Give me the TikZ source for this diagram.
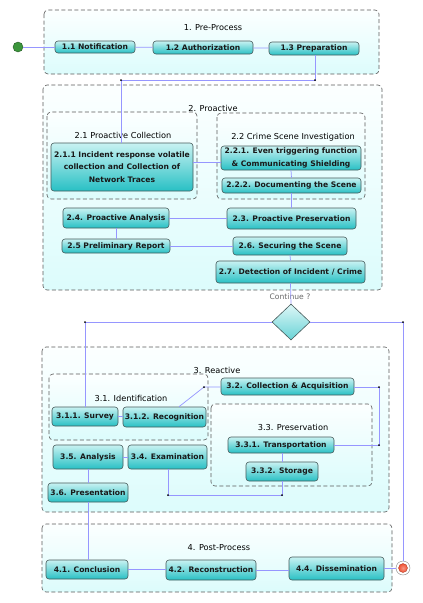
\documentclass[tikz,border=0pt]{standalone}
\usepackage{fontspec}
\setmainfont{DejaVu Sans}
\usetikzlibrary{shapes.geometric,calc}
\definecolor{boxtop}{RGB}{200,242,242}
\definecolor{boxbot}{RGB}{40,192,196}
\definecolor{boxdraw}{RGB}{70,90,90}
\definecolor{grptop}{RGB}{252,255,255}
\definecolor{grpbot}{RGB}{220,252,252}
\definecolor{grpdraw}{RGB}{90,90,90}
\definecolor{conn}{RGB}{150,150,255}
\definecolor{startg}{RGB}{60,150,60}
\definecolor{endr}{RGB}{240,80,50}
\tikzset{
  stepbox/.style={draw=boxdraw, line width=0.6pt, rounded corners=3pt, top color=boxtop, bottom color=boxbot, font=\fontsize{7.6}{8}\selectfont\bfseries, text=black!90, inner sep=1pt, align=center},
  grp/.style={draw=grpdraw, dash pattern=on 4pt off 2.5pt, line width=0.6pt, rounded corners=4pt, top color=grptop, bottom color=grpbot},
  grptitle/.style={font=\fontsize{8.2}{9}\selectfont, text=black},
  conn/.style={draw=conn, line width=0.7pt},
  dot/.style={circle, fill=black, inner sep=0pt, minimum size=2pt},
}
\begin{document}
\begin{tikzpicture}[x=1pt,y=-1pt]
\useasboundingbox (0,0) rectangle (423,603);
% groups
\draw[grp] (44,10) rectangle (379,74);
\node[grptitle] (t1) at (213,28) {1. Pre-Process};
\draw[grp] (43,85) rectangle (382,290);
\node[grptitle] (t2) at (213,108) {2. Proactive};
\draw[grp] (47,112) rectangle (197,199);
\node[grptitle] (t21) at (123,135) {2.1 Proactive Collection};
\draw[grp] (217,113) rectangle (365,199);
\node[grptitle] (t22) at (293,137) {2.2 Crime Scene Investigation};
\draw[grp] (42,347) rectangle (389,512);
\node[grptitle] (t3) at (217,370) {3. Reactive};
\draw[grp] (49,374) rectangle (208,440);
\node[grptitle] (t31) at (131,398) {3.1. Identification};
\draw[grp] (211,404) rectangle (372,486);
\node[grptitle] (t33) at (293,427) {3.3. Preservation};
\draw[grp] (42,524) rectangle (392,592);
\node[grptitle] (t4) at (219,548) {4. Post-Process};

% nodes
\node[circle, draw=startg!60!black, fill=startg, minimum size=10pt, inner sep=0pt] (start) at (18,47) {};
\node[circle, draw=gray, fill=white, minimum size=14pt, inner sep=0pt] (end) at (403,568) {};
\node[circle, draw=endr!70!black, line width=0.3pt, inner color=endr!60!white, outer color=endr, minimum size=9pt, inner sep=0pt] (endin) at (403,568) {};

\node[stepbox, minimum width=80pt, minimum height=12pt] (n11) at (95,47) {1.1 Notification};
\node[stepbox, minimum width=100pt, minimum height=13pt] (n12) at (203,47.5) {1.2 Authorization};
\node[stepbox, minimum width=90pt, minimum height=13pt] (n13) at (314,48.5) {1.3 Preparation};

\node[stepbox, minimum width=142pt, minimum height=48pt, font=\fontsize{7.6}{12.5}\selectfont\bfseries] (n211) at (122,167) {2.1.1 Incident response volatile\\collection and Collection of\\Network Traces};
\node[stepbox, minimum width=140pt, minimum height=24pt, font=\fontsize{7.6}{12.5}\selectfont\bfseries] (n221) at (291,158) {2.2.1. Even triggering function\\\& Communicating Shielding};
\node[stepbox, minimum width=139pt, minimum height=15pt] (n222) at (291.5,185.5) {2.2.2. Documenting the Scene};
\node[stepbox, minimum width=106pt, minimum height=20pt] (n24) at (116,218) {2.4. Proactive Analysis};
\node[stepbox, minimum width=129pt, minimum height=21pt] (n23) at (291.5,218.5) {2.3. Proactive Preservation};
\node[stepbox, minimum width=108pt, minimum height=14pt] (n25) at (116,246) {2.5 Preliminary Report};
\node[stepbox, minimum width=114pt, minimum height=18pt] (n26) at (290,246) {2.6. Securing the Scene};
\node[stepbox, minimum width=149pt, minimum height=22pt] (n27) at (290.5,272) {2.7. Detection of Incident / Crime};

\node[diamond, draw=boxdraw, line width=0.6pt, top color=boxtop!60!white, bottom color=boxbot!70!white, minimum width=38pt, minimum height=36pt, inner sep=0pt] (dec) at (291,322) {};
\node[font=\fontsize{7.6}{8}\selectfont, text=black!60] (cont) at (290,297) {Continue ?};

\node[stepbox, minimum width=66pt, minimum height=19pt] (n311) at (85,416.5) {3.1.1. Survey};
\node[stepbox, minimum width=83pt, minimum height=20pt] (n312) at (164.5,417) {3.1.2. Recognition};
\node[stepbox, minimum width=133pt, minimum height=17pt] (n32) at (287.5,386.5) {3.2. Collection \& Acquisition};
\node[stepbox, minimum width=106pt, minimum height=16pt] (n331) at (281,445) {3.3.1. Transportation};
\node[stepbox, minimum width=72pt, minimum height=19pt] (n332) at (282,471.5) {3.3.2. Storage};
\node[stepbox, minimum width=70pt, minimum height=24pt] (n35) at (88,457) {3.5. Analysis};
\node[stepbox, minimum width=79pt, minimum height=24pt] (n34) at (167.5,457) {3.4. Examination};
\node[stepbox, minimum width=80pt, minimum height=19pt] (n36) at (88,492.5) {3.6. Presentation};

\node[stepbox, minimum width=82pt, minimum height=19pt] (n41) at (87,569.5) {4.1. Conclusion};
\node[stepbox, minimum width=90pt, minimum height=20pt] (n42) at (211,570) {4.2. Reconstruction};
\node[stepbox, minimum width=95pt, minimum height=23pt] (n44) at (336.5,568.5) {4.4. Dissemination};

% junction coordinates
\coordinate (c1) at (315,80);
\coordinate (c2) at (121,80);
\coordinate (dl) at (85,322);
\coordinate (dr) at (403,322);
\coordinate (j1) at (204,387);
\coordinate (j2) at (379,387);
\coordinate (j3) at (379,445);
\coordinate (j4) at (282,495);
\coordinate (j5) at (168,495);

% connectors
\path[conn] (start) -- (n11);
\path[conn] (n11) -- (n12);
\path[conn] (n12) -- (n13);
\path[conn] (n13.south -| c1) -- (c1) -- (c2) -- (c2 |- n211.north);
\path[conn] ([yshift=5pt]n211.east) -- ([yshift=-4pt]n221.west);
\path[conn] (n221.south) -- (n222.north);
\path[conn] (n222.south) -- (n23.north);
\path[conn] (n24.east) -- (n23.west |- n24.east);
\path[conn] (n24.south) -- (n25.north);
\path[conn] (n25.east) -- (n26.west |- n25.east);
\path[conn] (n26.south) -- (n27.north);
\path[conn] (n27.south) -- (dec.north);
\path[conn] (dec.west) -- (dl) -- (n311.north);
\path[conn] (dec.east) -- (dr) -- (end.north);
\path[conn] (n311.east) -- (n312.west |- n311.east);
\path[conn] (n312.north -| 179,0) -- (j1) -- (n32.west |- j1);
\path[conn] (n32.east |- j2) -- (j2) -- (j3) -- (n331.east |- j3);
\path[conn] (n331.south -| n332.north) -- (n332.north);
\path[conn] (n332.south) -- (j4) -- (j5) -- (n34.south -| j5);
\path[conn] (n35.east) -- (n34.west |- n35.east);
\path[conn] (n35.south) -- (n36.north);
\path[conn] (n36.south) -- (n36.south |- n41.north);
\path[conn] (n41.east) -- (n42.west |- n41.east);
\path[conn] (n42.east) -- (n44.west |- n42.east);
\path[conn] (n44.east |- end.west) -- (end.west);

% dots
\foreach \p in {c1,c2,dl,dr,j1,j2,j3,j4,j5} \node[dot] at (\p) {};
\end{tikzpicture}
\end{document}
